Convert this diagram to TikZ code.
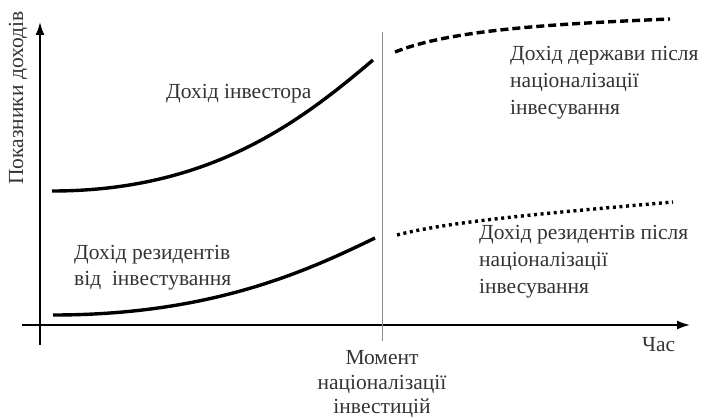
\documentclass[tikz,border=0pt]{standalone}
\usepackage{fontspec}
\setmainfont{Liberation Serif}
\usetikzlibrary{arrows.meta}
\begin{document}
\begin{tikzpicture}[x=1pt,y=-1pt,
  axis/.style={line width=1.8pt,-{Latex[length=13pt,width=9pt]}},
  curve/.style={line width=3.4pt},
  lbl/.style={inner sep=0pt,font=\fontsize{21.5}{27}\selectfont,text=black!80},
  lblc/.style={lbl,align=center,font=\fontsize{21.5}{24.5}\selectfont}]
\useasboundingbox (0,0) rectangle (711,417);
% axes
\coordinate (yb) at (40,345);
\coordinate (yt) at (40,22);
\coordinate (xl) at (22,325);
\coordinate (xr) at (690,325);
\draw[axis] (yb) -- (yt);
\draw[axis] (xl) -- (xr);
% moment line
\coordinate (mt) at (382,32);
\coordinate (mb) at (382,341);
\draw[line width=0.9pt,black!45] (mt) -- (mb);
% investor curve
\coordinate (i0) at (52,191);
\coordinate (i1) at (373,60);
\draw[curve] (i0) .. controls (210,191) and (300,122) .. (i1);
% residents curve
\coordinate (r0) at (53,315);
\coordinate (r1) at (375,238);
\draw[curve] (r0) .. controls (210,315) and (305,272) .. (r1);
% state after
\coordinate (s0) at (395,52);
\coordinate (s1) at (670,19);
\draw[line width=3.4pt,dash pattern=on 8pt off 4pt] (s0) .. controls (450,30) and (550,24) .. (s1);
% residents after
\coordinate (d0) at (397,235);
\coordinate (d1) at (673,202);
\draw[line width=3.4pt,dash pattern=on 3pt off 3.6pt] (d0) .. controls (450,221) and (560,212) .. (d1);
% labels
\node[lbl,rotate=90] (ylab) at (18,98) {Показники доходів};
\node[lbl,anchor=base west] (inv) at (166,99) {Дохід інвестора};
\node[lbl,anchor=north west,align=left] (st) at (510,46) {Дохід держави після\\націоналізації\\інвесування};
\node[lbl,anchor=north west,align=left] (ra) at (479,225) {Дохід резидентів після\\націоналізації\\інвесування};
\node[lbl,anchor=north west,align=left,font=\fontsize{21.5}{26}\selectfont] (rb) at (74,245) {Дохід резидентів\\від\ \ інвестування};
\node[lbl,anchor=base west] (t) at (642,351) {Час};
\node[lblc,anchor=north] (mom) at (382,350.5) {Момент\\націоналізації\\інвестицій};
\end{tikzpicture}
\end{document}
